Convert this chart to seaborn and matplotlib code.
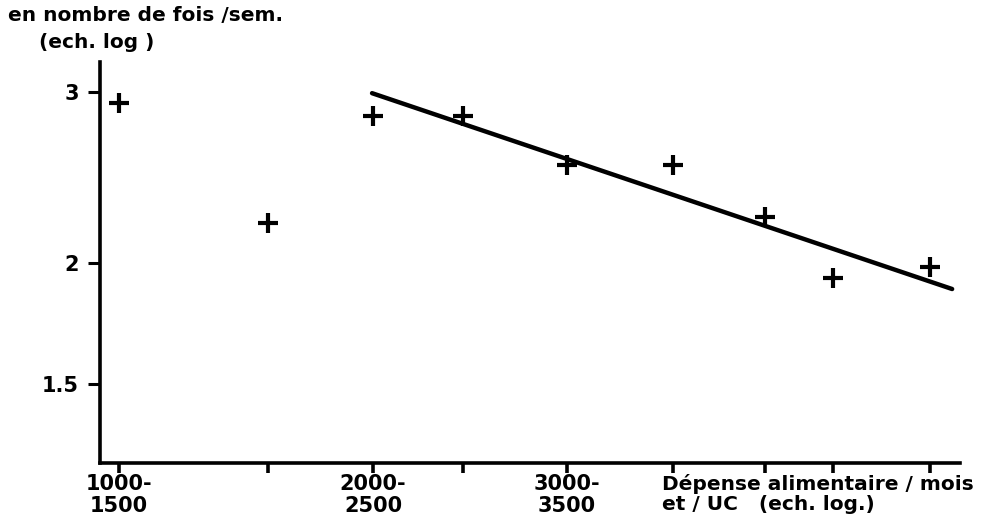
import matplotlib
matplotlib.use("Agg")
import matplotlib.pyplot as plt
import matplotlib.ticker as mticker
import seaborn as sns
import pandas as pd

# --- data ---
class_pos = [1.19, 2.68, 3.73, 4.63, 5.67, 6.73, 7.65, 8.33, 9.30]   # x position of each expenditure class (log scale)
freq = [2.92, 2.20, 2.83, 2.83, 2.52, 2.52, 2.23, 1.93, 1.98]         # times per week
fit_x = [3.72, 9.52]
fit_y = [2.99, 1.88]
xtick_pos = [1.19, 2.68, 3.73, 4.63, 5.67, 6.73, 7.65, 8.33, 9.30]
xtick_labels = ["1000-\n1500", "", "2000-\n2500", "", "3000-\n3500", "", "", "", ""]
ytick_vals = [1.5, 2, 3]
ytick_labels = ["1.5", "2", "3"]

sns.set_theme(style="white")
plt.rcParams['font.family'] = ['DejaVu Sans']
plt.rcParams['text.color'] = 'black'
plt.rcParams['xtick.color'] = 'black'
plt.rcParams['ytick.color'] = 'black'

fig = plt.figure(figsize=(9.96, 5.29), dpi=100)
ax = fig.add_axes([0.1004, 0.1248, 0.8636, 0.7582])

df = pd.DataFrame({"x": class_pos, "y": freq})
fit = pd.DataFrame({"x": fit_x, "y": fit_y})

sns.lineplot(data=fit, x="x", y="y", ax=ax, color="black", linewidth=3.2)
sns.scatterplot(data=df, x="x", y="y", ax=ax, marker="+", s=190, color="black",
                linewidth=3.0)

ax.set_yscale("log")
ax.set_ylim(1.245, 3.22)
ax.set_xlim(1.0, 9.6)
ax.yaxis.set_major_locator(mticker.FixedLocator(ytick_vals))
ax.yaxis.set_major_formatter(mticker.FixedFormatter(ytick_labels))
ax.yaxis.set_minor_locator(mticker.NullLocator())
ax.set_xticks(xtick_pos)
ax.set_xticklabels(xtick_labels, fontsize=15, fontweight="bold", linespacing=1.1,
                   color="black")
for t in ax.get_yticklabels():
    t.set_fontsize(15)
    t.set_fontweight("bold")
    t.set_color("black")

ax.set_xlabel("")
ax.set_ylabel("")
for side in ["top", "right"]:
    ax.spines[side].set_visible(False)
for side in ["left", "bottom"]:
    ax.spines[side].set_linewidth(2.6)
    ax.spines[side].set_color("black")
ax.tick_params(axis="y", direction="out", length=9, width=2.2, color="black", pad=6, left=True)
ax.tick_params(axis="x", direction="out", length=7, width=2.6, color="black", pad=1, bottom=True)

fig.text(0.008, 0.988, "en nombre de fois /sem.", fontsize=14.5, fontweight="bold",
         ha="left", va="top", color="black")
fig.text(0.039, 0.938, "(ech. log )", fontsize=14.5, fontweight="bold",
         ha="left", va="top", color="black")
fig.text(0.665, 0.104, "Dépense alimentaire / mois\net / UC   (ech. log.)", fontsize=14.5,
         fontweight="bold", ha="left", va="top", linespacing=1.05, color="black")

fig.savefig("out.png", dpi=100, facecolor="white")
